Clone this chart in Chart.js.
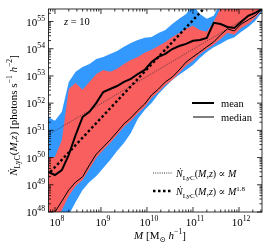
<!DOCTYPE html>
<html>
<head>
<meta charset="utf-8">
<script src="https://cdn.jsdelivr.net/npm/chart.js@4.4.0/dist/chart.umd.min.js"></script>
<style>
html, body { margin: 0; padding: 0; background: #fff; }
</style>
</head>
<body>
<canvas id="chart" width="269" height="245"></canvas>
<script>
// mass bins, log10(M / [Msun h^-1])
const logMass = [7.85, 8.0, 8.15, 8.3, 8.45, 8.6, 8.75, 8.9, 9.05, 9.2, 9.35, 9.5, 9.65, 9.8, 9.95, 10.1,
                 10.25, 10.4, 10.55, 10.7, 10.85, 11.0, 11.15, 11.3, 11.45, 11.6, 11.75, 11.9, 12.05, 12.2, 12.35, 12.5];

// log10 of N_LyC [photons s^-1 h^-2]
const meanLog = [49.47, 49.36, 49.54, 50.10, 50.83, 51.49, 51.68, 52.01, 52.41, 52.52, 52.63, 52.78, 52.89, 53.07, 53.22, 53.51,
                 53.70, 53.81, 53.99, 54.10, 54.18, 54.29, 54.32, 54.40, 54.95, 54.91, 54.80, 54.76, 54.99, 55.21, 55.32, 55.46];
const medianLog = [47.52, 48.0, 48.40, 48.81, 49.10, 49.29, 49.73, 50.13, 50.39, 50.65, 50.94, 51.24, 51.46, 51.73, 51.97, 52.30,
                   52.52, 52.78, 52.96, 53.22, 53.51, 53.70, 53.88, 54.07, 54.25, 54.51, 54.73, 54.65, 54.91, 55.06, 55.21, 55.46];

// outer (blue) and inner (red) scatter bands
const blueUpper = [51.49, 51.35, 51.68, 52.78, 53.15, 53.33, 53.44, 53.62, 53.70, 53.81, 53.92, 54.07, 54.21, 54.32, 54.40, 54.43,
                   54.58, 54.69, 54.91, 55.10, 55.28, 55.60, 55.28, 55.10, 55.21, 55.70, 55.80, 55.80, 55.80, 55.80, 55.80, 55.80];
const blueLower = [47.0, 47.0, 47.34, 47.89, 48.37, 48.81, 49.10, 49.32, 49.62, 49.91, 50.24, 50.54, 50.90, 51.42, 51.75, 52.01,
                   52.34, 52.60, 52.85, 53.04, 53.22, 53.40, 53.66, 53.88, 54.05, 54.18, 54.33, 54.42, 54.62, 54.80, 55.02, 55.35];
const redUpper = [50.02, 50.02, 50.65, 52.52, 52.74, 52.49, 52.78, 53.07, 53.22, 53.15, 53.26, 53.44, 53.59, 53.70, 53.85, 53.96,
                  54.10, 54.25, 54.43, 54.58, 54.73, 54.84, 54.69, 54.62, 54.99, 55.50, 55.70, 55.70, 55.70, 55.70, 55.70, 55.70];
const redLower = [47.34, 47.52, 48.07, 48.59, 48.96, 49.18, 49.58, 49.99, 50.28, 50.54, 50.83, 51.13, 51.35, 51.62, 51.86, 52.19,
                  52.41, 52.67, 52.85, 53.11, 53.37, 53.55, 53.80, 53.98, 54.15, 54.36, 54.58, 54.51, 54.76, 54.91, 55.13, 55.42];

// power-law guides (end points)
const linearMass = [7.85, 12.5];
const linearLog = [50.83, 55.48];
const steepMass = [7.9, 11.3];
const steepLog = [49.47, 55.59];

const SERIF = '"Liberation Serif", "DejaVu Serif", serif';
const BLUE = '#3399ff';
const RED = '#f95f5f';

function pts(xs, ys) {
    return xs.map((m, i) => ({ x: Math.pow(10, m), y: Math.pow(10, ys[i]) }));
}

// text with italic / sub / sup pieces
function drawParts(ctx, parts, x, y, size, align) {
    const fontFor = k => {
        let small = k.includes('sub') || k.includes('sup');
        return (k.startsWith('i') ? 'italic ' : '') + (small ? size * 0.7 : size) + 'px ' + SERIF;
    };
    let w = 0;
    parts.forEach(p => { ctx.font = fontFor(p[1]); w += ctx.measureText(p[0]).width; });
    let cx = align === 'center' ? x - w / 2 : align === 'right' ? x - w : x;
    ctx.textAlign = 'left';
    parts.forEach(p => {
        ctx.font = fontFor(p[1]);
        let dy = p[1].includes('sub') ? size * 0.25 : p[1].includes('sup') ? -size * 0.42 : 0;
        ctx.fillText(p[0], cx, y + dy);
        cx += ctx.measureText(p[0]).width;
    });
}

const nlyc = [['Ṅ', 'i'], ['LyC', 'sub'], ['(', 'r'], ['M', 'i'], [',', 'r'], ['z', 'i'], [')', 'r']];

const decor = {
    id: 'decor',
    afterDraw(chart) {
        const { ctx, chartArea: a, scales: { x, y } } = chart;
        ctx.save();
        ctx.fillStyle = '#000';
        ctx.strokeStyle = '#000';
        ctx.lineWidth = 0.8;
        ctx.strokeRect(a.left, a.top, a.right - a.left, a.bottom - a.top);

        // x ticks (inward, bottom and top)
        for (let n = 7; n <= 12; n++) {
            for (let k = 1; k <= 9; k++) {
                let v = k * Math.pow(10, n);
                if (v < x.min || v > x.max) continue;
                let px = x.getPixelForValue(v);
                let len = k === 1 ? 5 : 2.5;
                ctx.beginPath();
                ctx.moveTo(px, a.bottom); ctx.lineTo(px, a.bottom - len);
                ctx.moveTo(px, a.top); ctx.lineTo(px, a.top + len);
                ctx.stroke();
                if (k === 1) drawParts(ctx, [['10', 'r'], [String(n), 'sup']], px + 2, 226, 11, 'center');
            }
        }
        // y ticks (inward, left and right)
        for (let n = 47; n <= 55; n++) {
            for (let k = 1; k <= 9; k++) {
                let v = k * Math.pow(10, n);
                if (v < y.min || v > y.max) continue;
                let py = y.getPixelForValue(v);
                let len = k === 1 ? 5 : 2.5;
                ctx.beginPath();
                ctx.moveTo(a.left, py); ctx.lineTo(a.left + len, py);
                ctx.moveTo(a.right, py); ctx.lineTo(a.right - len, py);
                ctx.stroke();
                if (k === 1) drawParts(ctx, [['10', 'r'], [String(n), 'sup']], a.left - 3.5, py + 4, 11, 'right');
            }
        }

        // axis titles
        drawParts(ctx, [['M', 'i'], [' [M', 'r'], ['⊙', 'sub'], [' ', 'r'], ['h', 'i'], ['−1', 'sup'], [']', 'r']], 160, 239, 11, 'center');
        ctx.save();
        ctx.translate(17, (a.top + a.bottom) / 2 + 5);
        ctx.rotate(-Math.PI / 2);
        drawParts(ctx, nlyc.concat([[' [photons s', 'r'], ['−1', 'sup'], [' ', 'r'], ['h', 'i'], ['−2', 'sup'], [']', 'r']]), 0, 0, 11, 'center');
        ctx.restore();

        // redshift label
        drawParts(ctx, [['z', 'i'], [' = 10', 'r']], 64, 25, 10.5, 'left');

        // legends
        ctx.lineCap = 'butt';
        ctx.setLineDash([]);
        ctx.lineWidth = 2;
        ctx.beginPath(); ctx.moveTo(192, 103); ctx.lineTo(214, 103); ctx.stroke();
        ctx.lineWidth = 1;
        ctx.beginPath(); ctx.moveTo(193, 117); ctx.lineTo(214, 117); ctx.stroke();
        drawParts(ctx, [['mean', 'r']], 221, 107, 10.5, 'left');
        drawParts(ctx, [['median', 'r']], 221, 121, 10.5, 'left');

        ctx.lineWidth = 0.8;
        ctx.setLineDash([1, 1.2]);
        ctx.beginPath(); ctx.moveTo(153, 173); ctx.lineTo(172, 173); ctx.stroke();
        ctx.lineWidth = 2.4;
        ctx.setLineDash([2.5, 2.5]);
        ctx.beginPath(); ctx.moveTo(153, 191); ctx.lineTo(172, 191); ctx.stroke();
        ctx.setLineDash([]);
        drawParts(ctx, nlyc.concat([[' ∝ ', 'r'], ['M', 'i']]), 176, 177, 10, 'left');
        drawParts(ctx, nlyc.concat([[' ∝ ', 'r'], ['M', 'i'], ['1.8', 'sup']]), 176, 195, 10, 'left');
        ctx.restore();
    }
};

new Chart(document.getElementById('chart'), {
    type: 'line',
    data: {
        datasets: [
            { data: pts(logMass, blueUpper), fill: '+1', backgroundColor: BLUE, borderWidth: 0, pointRadius: 0, order: 20 },
            { data: pts(logMass, blueLower), fill: false, borderWidth: 0, pointRadius: 0, order: 21 },
            { data: pts(logMass, redUpper), fill: '+1', backgroundColor: RED, borderWidth: 0, pointRadius: 0, order: 10 },
            { data: pts(logMass, redLower), fill: false, borderWidth: 0, pointRadius: 0, order: 11 },
            { data: pts(linearMass, linearLog), borderColor: '#333', borderWidth: 0.8, borderDash: [1, 1.2], pointRadius: 0, fill: false, order: 4 },
            { data: pts(logMass, medianLog), borderColor: '#000', borderWidth: 1, pointRadius: 0, fill: false, order: 3 },
            { data: pts(logMass, meanLog), borderColor: '#000', borderWidth: 2, pointRadius: 0, fill: false, order: 2 },
            { data: pts(steepMass, steepLog), borderColor: '#000', borderWidth: 2.4, borderDash: [2.5, 2.5], pointRadius: 0, fill: false, order: 1 }
        ]
    },
    options: {
        responsive: false,
        animation: false,
        devicePixelRatio: 1,
        layout: { padding: { top: 9, right: 7, left: 0, bottom: 0 } },
        elements: { line: { tension: 0 } },
        plugins: { legend: { display: false }, tooltip: { enabled: false } },
        scales: {
            x: {
                type: 'logarithmic',
                min: Math.pow(10, 7.86),
                max: Math.pow(10, 12.5),
                grid: { display: false },
                border: { display: false },
                ticks: { display: false },
                afterFit: s => { s.height = 33; }
            },
            y: {
                type: 'logarithmic',
                min: 1e48,
                max: Math.pow(10, 55.46),
                grid: { display: false },
                border: { display: false },
                ticks: { display: false },
                afterFit: s => { s.width = 48.5; }
            }
        }
    },
    plugins: [decor]
});
</script>
</body>
</html>
